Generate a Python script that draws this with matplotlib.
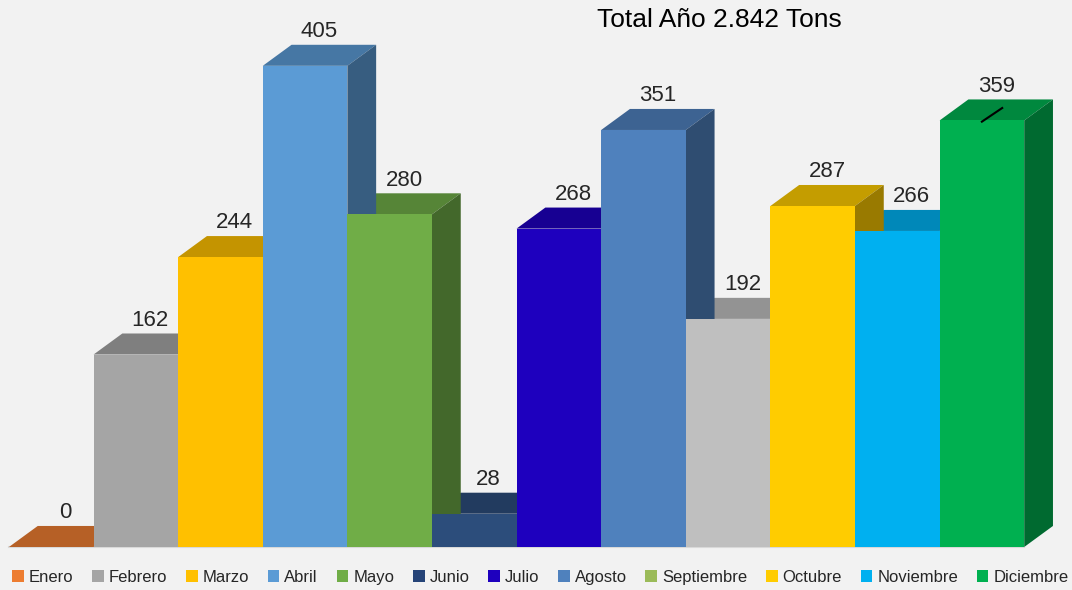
import matplotlib
matplotlib.use('Agg')
import matplotlib.pyplot as plt
from matplotlib.patches import Polygon, Patch
from matplotlib.colors import to_rgb

plt.rcParams['font.family'] = ['Liberation Sans', 'DejaVu Sans']

# data
months = ['Enero', 'Febrero', 'Marzo', 'Abril', 'Mayo', 'Junio', 'Julio',
          'Agosto', 'Septiembre', 'Octubre', 'Noviembre', 'Diciembre']
tons = [0, 162, 244, 405, 280, 28, 268, 351, 192, 287, 266, 359]
bar_colors = ['#ed7d31', '#a5a5a5', '#ffc000', '#5b9bd5', '#70ad47', '#2c4d7b',
              '#1e00be', '#4f81bd', '#bfbfbf', '#ffcc00', '#00b0f0', '#00b050']
legend_colors = ['#ed7d31', '#a5a5a5', '#ffc000', '#5b9bd5', '#70ad47', '#264478',
                 '#1e00be', '#4f81bd', '#9bbb59', '#ffcc00', '#00b0f0', '#00b050']
title = 'Total Año 2.842 Tons'

# fake 3d depth offsets (x in bar widths, y in tons)
DX = 0.34
DY = 17.7


def shade(c, f):
    r, g, b = to_rgb(c)
    return (r * f, g * f, b * f)


fig = plt.figure(figsize=(10.72, 5.9), dpi=100, facecolor='#f2f2f2')
ax = fig.add_axes([0, 0, 1, 1])
ax.set_xlim(-0.106, 12.565)
ax.set_ylim(-36.2, 460.4)
ax.axis('off')

# floor line
ax.plot([0, 12], [0, 0], color='#d9d9d9', lw=1.5, zorder=0)

# tops first, then sides, then fronts (same order excel paints them)
for i, v in enumerate(tons):
    top = [(i, v), (i + 1, v), (i + 1 + DX, v + DY), (i + DX, v + DY)]
    ax.add_patch(Polygon(top, closed=True, fc=shade(bar_colors[i], 0.77), ec='none', zorder=1))
for i, v in enumerate(tons):
    if v <= 0:
        continue
    side = [(i + 1, 0), (i + 1 + DX, DY), (i + 1 + DX, v + DY), (i + 1, v)]
    ax.add_patch(Polygon(side, closed=True, fc=shade(bar_colors[i], 0.6), ec='none', zorder=2))
for i, v in enumerate(tons):
    ax.bar(i + 0.5, v, width=1.0, color=bar_colors[i], edgecolor='none', zorder=3)

# value labels
for i, v in enumerate(tons):
    ax.annotate(str(v), (i + 0.5 + DX / 2, v + DY), xytext=(0, 2), textcoords='offset points',
                ha='center', va='bottom', fontsize=16, color='#262626', zorder=5)

# the little leader line on Diciembre
ax.plot([11.5, 11.74], [tons[-1] - 1, tons[-1] + 10.5], color='black', lw=1.5, zorder=4)

fig.text(0.671, 0.966, title, ha='center', va='center', fontsize=19, color='black')

handles = [Patch(fc=c, ec='none', label=m) for m, c in zip(months, legend_colors)]
fig.legend(handles=handles, loc='center', bbox_to_anchor=(0.504, 0.021), ncol=12,
           frameon=False, fontsize=12, handlelength=0.7, handleheight=0.7,
           handletextpad=0.3, columnspacing=1.12, labelcolor='#262626')

fig.savefig('out.png', dpi=100, facecolor=fig.get_facecolor())
